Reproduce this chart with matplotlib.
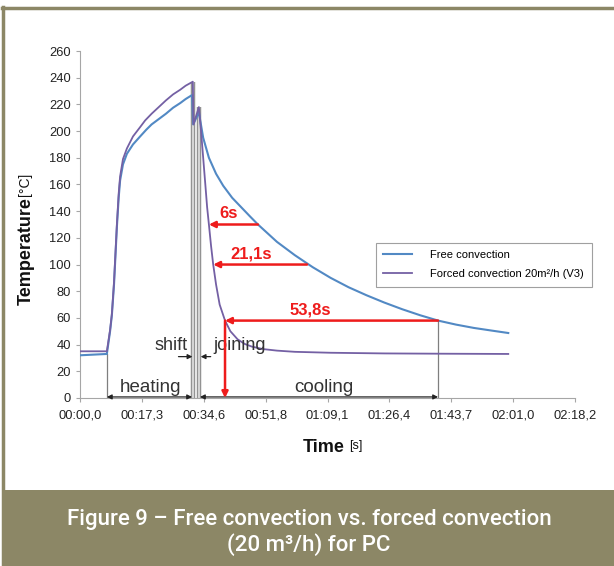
'''
Free convection vs. forced convection (20 m3/h) for PC - temperature curves.
'''

import matplotlib.pyplot as plt
from matplotlib.lines import Line2D
from matplotlib.patches import Rectangle
from matplotlib.ticker import FixedLocator, FuncFormatter

plt.rcParams['font.family'] = ['Liberation Sans', 'DejaVu Sans']

################################################################################
#   Data (time in seconds, temperature in degC).                               #
################################################################################

t_free = [0, 7.5, 8.4, 8.9, 9.5, 10.3, 10.8, 11.2, 12.0, 13.1, 14.8, 16.8,
          18.5, 20.0, 22.0, 24.0, 26.0, 28.0, 29.5, 31.3, 31.6, 33.2, 34.4,
          36.0, 38.0, 40.0, 42.5, 45.0, 47.5, 49.7, 55.0, 60.0, 65.0, 70.0,
          75.0, 80.0, 85.0, 90.0, 95.0, 100.0, 105.0, 110.0, 115.0, 119.6]
T_free = [32, 33, 50, 62, 85, 128, 150, 163, 175, 183, 190, 196,
          201, 205, 209, 213, 217.5, 221, 224, 227, 205, 214, 195,
          180, 168, 159, 150, 143, 136, 130, 117, 107, 98, 90,
          83, 77, 71.5, 66.5, 62, 58, 55, 52.5, 50.5, 48.7]

t_forced = [0, 7.5, 8.4, 8.9, 9.5, 10.3, 10.8, 11.2, 12.0, 13.1, 14.8, 16.8,
            18.2, 20.0, 22.0, 24.0, 26.0, 28.0, 29.5, 31.5, 31.7, 33.2, 33.8,
            34.4, 35.0, 35.5, 36.0, 36.6, 37.2, 38.0, 39.0, 40.5, 42.0, 44.0,
            46.0, 48.0, 51.0, 55.0, 60.0, 70.0, 85.0, 100.0, 119.6]
T_forced = [35, 35, 51, 63, 87, 130, 153, 166, 179, 187, 196, 203,
            208, 213, 218, 223, 227.5, 231, 234, 237, 205, 218, 200,
            180, 160, 143, 130, 114, 100, 85, 70, 58, 50, 44,
            40.5, 38.5, 36.7, 35.5, 34.6, 33.9, 33.4, 33.2, 33]

# time where each curve reaches the marked level (red arrows)
arrow_labels = ['6s', '21,1s', '53,8s']
arrow_levels = [130, 100, 58]
arrow_t_free = [49.7, 63.4, 100.0]
arrow_t_forced = [36.0, 37.2, 40.5]

# process phases
heat_start = 7.5
shift_t = [31.6, 33.2]
shift_top = [237, 218]
cool_end = 100.0

tick_step = 17.28
x_max = 8 * tick_step

################################################################################
#   Figure.                                                                    #
################################################################################

W, H = 614, 566
fig = plt.figure(figsize=(W / 100, H / 100), dpi=100)
ax = fig.add_axes([80 / W, 1 - 398 / H, 495 / W, 347 / H])

red = '#ee1c1c'
gray = '#7f7f7f'
txt = '#333333'

# shift bars
for tx, top in zip(shift_t, shift_top):
    ax.plot([tx, tx], [0, top], color='#8c8c8c', lw=3.2, solid_capstyle='butt', zorder=2)
    ax.plot([tx, tx], [0, top], color='#d4d4d4', lw=1.6, solid_capstyle='butt', zorder=2)

l_free, = ax.plot(t_free, T_free, color='#5289c4', lw=1.5, zorder=3)
l_forced, = ax.plot(t_forced, T_forced, color='#7460a4', lw=1.3, zorder=3)

# red arrows
for lab, lev, tf, tp in zip(arrow_labels, arrow_levels, arrow_t_free, arrow_t_forced):
    ax.annotate('', xy=(tp, lev), xytext=(tf, lev),
                arrowprops=dict(arrowstyle='-|>', color=red, lw=1.8,
                                mutation_scale=9, shrinkA=0, shrinkB=0), zorder=4)
    ax.text(tp + 0.4 * (tf - tp), lev + 2.5, lab, color=red, fontsize=12,
            fontweight='bold', ha='center', va='bottom')
ax.annotate('', xy=(arrow_t_forced[2], 0), xytext=(arrow_t_forced[2], arrow_levels[2]),
            arrowprops=dict(arrowstyle='-|>', color=red, lw=1.8,
                            mutation_scale=9, shrinkA=0, shrinkB=0), zorder=4)

# phase markers
ax.plot([heat_start, heat_start], [0, T_free[1]], color=gray, lw=0.9)
ax.plot([cool_end, cool_end], [0, arrow_levels[2]], color=gray, lw=0.9)
dbl = dict(arrowstyle='<|-|>', color='#222222', lw=0.9, mutation_scale=7,
           shrinkA=0, shrinkB=0)
ax.annotate('', xy=(heat_start, 0.8), xytext=(shift_t[0] - 0.3, 0.8), arrowprops=dbl)
ax.annotate('', xy=(shift_t[1] + 0.3, 0.8), xytext=(cool_end, 0.8), arrowprops=dbl)
one = dict(arrowstyle='-|>', color='#222222', lw=0.9, mutation_scale=7,
           shrinkA=0, shrinkB=0)
ax.annotate('', xy=(shift_t[0] - 0.2, 31), xytext=(27.5, 31), arrowprops=one)
ax.annotate('', xy=(shift_t[1] + 0.5, 31), xytext=(36.5, 31), arrowprops=one)

ax.text(19.8, 8, 'heating', fontsize=13.5, color=txt, ha='center', va='center')
ax.text(68, 8, 'cooling', fontsize=13.5, color=txt, ha='center', va='center')
ax.text(25.3, 39, 'shift', fontsize=13, color=txt, ha='center', va='center')
ax.text(44.5, 39, 'joining', fontsize=13, color=txt, ha='center', va='center')

# axes style
ax.set_xlim(0, x_max)
ax.set_ylim(0, 260)
ax.xaxis.set_major_locator(FixedLocator([i * tick_step for i in range(9)]))
ax.yaxis.set_major_locator(FixedLocator(range(0, 261, 20)))


def fmt_time(t, pos):
    m = int(t // 60)
    s = t - 60 * m
    return f'{m:02d}:{s:04.1f}'.replace('.', ',')


ax.xaxis.set_major_formatter(FuncFormatter(fmt_time))
for side in ['top', 'right']:
    ax.spines[side].set_visible(False)
for side in ['left', 'bottom']:
    ax.spines[side].set_color('#a6a6a6')
    ax.spines[side].set_linewidth(0.8)
ax.tick_params(colors='#a6a6a6', labelcolor='#222222', labelsize=9.3,
               length=3, width=0.8, direction='out')
ax.tick_params(axis='x', pad=5)

# axis titles: bold word followed by a smaller unit
ylab = fig.text(26 / W, 1 - 305 / H, 'Temperature', rotation=90, fontsize=13,
                fontweight='bold', ha='center', va='bottom', color='#111111')
fig.add_artist(plt.Annotation('[°C]', xy=(0.45, 1), xycoords=ylab,
                              xytext=(0, 1), textcoords='offset points',
                              rotation=90, fontsize=10, ha='center', va='bottom',
                              color='#111111'))
xlab = fig.text(303 / W, 1 - 447 / H, 'Time', fontsize=13, fontweight='bold',
                ha='left', va='center', color='#111111')
fig.add_artist(plt.Annotation('[s]', xy=(1, 0.55), xycoords=xlab,
                              xytext=(3, 0), textcoords='offset points',
                              fontsize=9, ha='left', va='center',
                              color='#111111'))

leg = fig.legend([l_free, l_forced],
                 ['Free convection', 'Forced convection 20m²/h (V3)'],
                 loc='upper left', bbox_to_anchor=(370 / W, 1 - 237 / H),
                 fontsize=8, frameon=True, fancybox=False, handlelength=2.6,
                 borderpad=0.7, labelspacing=0.8, handletextpad=1.6)
leg.get_frame().set_edgecolor('#888888')
leg.get_frame().set_linewidth(0.8)

# frame and caption band
olive = '#8c8766'
fig.patches.append(Rectangle((2 / W, 0), 1, 76 / H, transform=fig.transFigure,
                             facecolor=olive, edgecolor='none'))
fig.lines.append(Line2D([3 / W, 3 / W], [0, 1 - 7 / H], transform=fig.transFigure,
                        color=olive, lw=2.5))
fig.lines.append(Line2D([2 / W, 1], [1 - 8 / H, 1 - 8 / H], transform=fig.transFigure,
                        color=olive, lw=2.5))
fig.text(309 / W, 1 - 520 / H, 'Figure 9 – Free convection vs. forced convection',
         family='Roboto', fontsize=16, fontweight='medium', color='white',
         ha='center', va='center')
fig.text(309 / W, 1 - 545 / H, '(20 m³/h) for PC',
         family='Roboto', fontsize=16, fontweight='medium', color='white',
         ha='center', va='center')

fig.savefig('out.png', dpi=100)
